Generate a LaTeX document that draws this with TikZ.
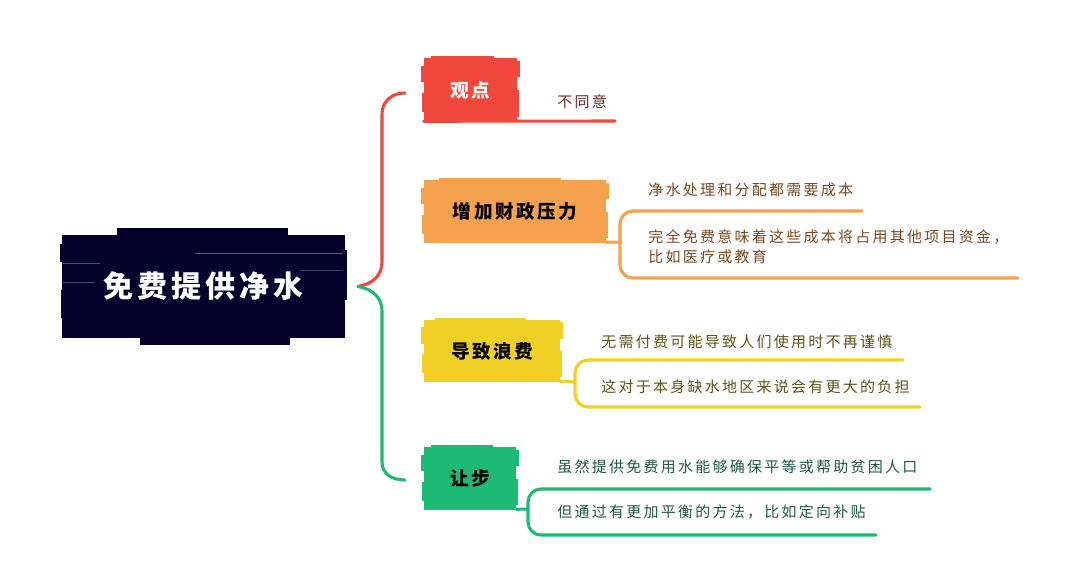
\documentclass[tikz,border=0pt]{standalone}
\usepackage{fontspec}
\newfontfamily\cjkroot[LetterSpace=13]{Noto Sans CJK SC}
\newfontfamily\cjktitle[LetterSpace=13]{Noto Sans CJK SC}
\newfontfamily\cjksub[LetterSpace=15]{Noto Sans CJK SC}
\definecolor{navy}{HTML}{05012C}
\definecolor{cred}{HTML}{F2473D}
\definecolor{corange}{HTML}{F5A14D}
\definecolor{cyellow}{HTML}{F0D024}
\definecolor{cgreen}{HTML}{1DBA76}
\definecolor{tred}{HTML}{6E2C2C}
\definecolor{torange}{HTML}{7A4A22}
\definecolor{tyellow}{HTML}{5E5418}
\definecolor{tgreen}{HTML}{1F5A40}
\tikzset{
  topicbox/.style={rectangle, inner sep=0pt, fill=#1, anchor=center,
    font=\cjktitle\bfseries\fontsize{14}{16}\selectfont},
  subtext/.style={inner sep=0pt, anchor=west, align=left, text=#1,
    font=\cjksub\fontsize{11.25}{15}\selectfont},
  branch/.style={draw=#1, line width=2.3pt, line cap=round, rounded corners=9.75pt},
}
\newcommand{\roughbox}[5]{%
  \fill[#1] ({#2-3},{#3+0.12*(#5-#3)}) rectangle (#2,{#3+0.38*(#5-#3)});
  \fill[#1] ({#2-2},{#3+0.55*(#5-#3)}) rectangle (#2,{#3+0.85*(#5-#3)});
  \fill[#1] (#4,{#3+0.04*(#5-#3)}) rectangle ({#4+3},{#3+0.3*(#5-#3)});
  \fill[#1] (#4,{#3+0.5*(#5-#3)}) rectangle ({#4+2},{#3+0.92*(#5-#3)});
  \fill[#1] ({#2+0.08*(#4-#2)},{#3-2}) rectangle ({#2+0.75*(#4-#2)},#3);
}
\begin{document}
\begin{tikzpicture}[x=0.75pt,y=-0.75pt]
\useasboundingbox (0,0) rectangle (1080,560);
\fill[white] (0,0) rectangle (1080,560);

% root
\fill[navy] (117,228) rectangle (288,236);
\fill[navy] (140,337) rectangle (290,345);
\fill[navy] (60,244) rectangle (64,262);
\fill[navy] (61,290) rectangle (64,318);
\fill[navy] (344,250) rectangle (347,300);
\node[rectangle, inner sep=0pt, fill=navy, minimum width=212.25pt, minimum height=77.25pt,
  text=white, font=\cjkroot\bfseries\fontsize{22.5}{24}\selectfont]
  (root) at (203.5,286.5) {免费提供净水};
\draw[white, opacity=0.35, line width=0.6pt] (195,253) -- (343,253);
\draw[white, opacity=0.3, line width=0.6pt] (63,263) -- (100,263);
\draw[white, opacity=0.3, line width=0.6pt] (63,282) -- (95,282);
\draw[white, opacity=0.25, line width=0.6pt] (300,270) -- (343,270);
\coordinate (rj) at (358,286.5);

% topic boxes
\roughbox{cred}{424}{58}{517}{122}
\node[topicbox=cred, minimum width=69.75pt, minimum height=48pt, text=white] (p1) at (470.5,90) {观点};
\roughbox{corange}{424}{180}{606}{243}
\node[topicbox=corange, minimum width=136.5pt, minimum height=47.25pt, text=black] (p2) at (515,211.5) {增加财政压力};
\roughbox{cyellow}{424}{320}{560}{382}
\node[topicbox=cyellow, minimum width=102pt, minimum height=46.5pt, text=black] (p3) at (492,351) {导致浪费};
\roughbox{cgreen}{424}{447}{516}{510}
\node[topicbox=cgreen, minimum width=69pt, minimum height=47.25pt, text=black] (p4) at (470,478.5) {让步};

% root branches
\coordinate (e1) at (405,93);
\coordinate (e4) at (405,480);
\draw[cred, line width=2.3pt, line cap=round] (rj) .. controls (373,284) and (382,275) .. (382,262) -- (382,114) .. controls (382,101) and (392,93) .. (e1);
\draw[cgreen, line width=2.3pt, line cap=round] (rj) .. controls (373,289) and (382,298) .. (382,311) -- (382,462) .. controls (382,474) and (392,480) .. (e4);

% 观点 child
\coordinate (u1) at (615,121);
\draw[cred, line width=2.3pt, line cap=round] (p1.south west) ++(0,-1) -- (u1);
\node[subtext=tred] (t1) at (557,102) {不同意};

% 增加财政压力 children
\coordinate (j2) at (620,242);
\coordinate (u2a) at (862,211);
\coordinate (u2b) at (1018,278);
\draw[branch=corange] (p2.south east) ++(0,-1) -- (j2);
\draw[branch=corange] (j2) -- (620,211) -- (u2a);
\draw[branch=corange] (j2) -- (620,278) -- (u2b);
\node[subtext=torange] (t2a) at (648,190) {净水处理和分配都需要成本};
\node[subtext=torange] (t2b) at (648,247) {完全免费意味着这些成本将占用其他项目资金，\\比如医疗或教育};

% 导致浪费 children
\coordinate (j3) at (575,382);
\coordinate (u3a) at (903,360);
\coordinate (u3b) at (920,407);
\draw[branch=cyellow] (p3.south east) ++(0,-1) -- (j3);
\draw[branch=cyellow] (j3) -- (575,360) -- (u3a);
\draw[branch=cyellow] (j3) -- (575,407) -- (u3b);
\node[subtext=tyellow] (t3a) at (601,342) {无需付费可能导致人们使用时不再谨慎};
\node[subtext=tyellow] (t3b) at (601,387) {这对于本身缺水地区来说会有更大的负担};

% 让步 children
\coordinate (j4) at (528,509);
\coordinate (u4a) at (930,489);
\coordinate (u4b) at (876,535);
\draw[branch=cgreen] (p4.south east) ++(0,-1) -- (j4);
\draw[branch=cgreen] (j4) -- (528,489) -- (u4a);
\draw[branch=cgreen] (j4) -- (528,535) -- (u4b);
\node[subtext=tgreen] (t4a) at (557,467) {虽然提供免费用水能够确保平等或帮助贫困人口};
\node[subtext=tgreen] (t4b) at (557,512) {但通过有更加平衡的方法，比如定向补贴};
\end{tikzpicture}
\end{document}
